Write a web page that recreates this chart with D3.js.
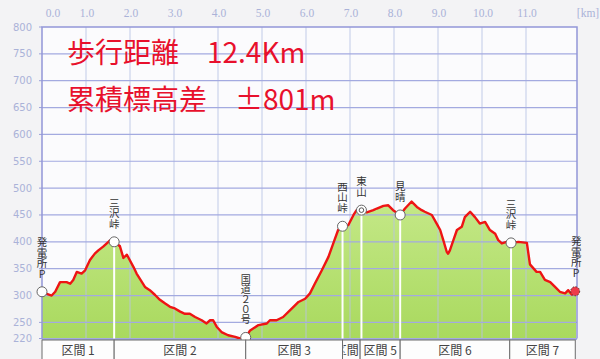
<!DOCTYPE html>
<html><head><meta charset="utf-8">
<script src="https://cdn.jsdelivr.net/npm/d3@7"></script>
<style>body{margin:0;background:#f3f3f5;}svg{display:block}</style>
</head><body>
<svg id="c" width="600" height="359"></svg>
<script>
const distKm = [0.00,0.11,0.22,0.30,0.41,0.56,0.64,0.71,0.79,0.90,0.98,1.09,1.20,1.28,1.39,1.51,1.55,1.64,1.77,1.85,1.93,2.08,2.15,2.34,2.45,2.57,2.68,2.80,2.91,3.02,3.14,3.25,3.36,3.48,3.63,3.74,3.82,3.89,3.97,4.08,4.23,4.39,4.50,4.63,4.73,4.92,5.11,5.18,5.33,5.48,5.64,5.83,5.98,6.09,6.20,6.36,6.51,6.62,6.73,6.83,6.96,7.08,7.15,7.26,7.38,7.53,7.61,7.76,7.87,7.98,8.14,8.25,8.40,8.52,8.63,8.70,8.86,8.97,9.05,9.12,9.20,9.23,9.27,9.35,9.43,9.54,9.61,9.73,9.84,9.95,10.07,10.18,10.30,10.37,10.45,10.56,10.66,10.83,11.02,11.09,11.24,11.32,11.43,11.55,11.66,11.77,11.89,11.96,12.04,12.14];
const elevation = [307,303,300,307,325,325,322,329,344,341,347,366,378,384,391,400,403,399,392,370,376,353,341,316,310,301,292,285,279,276,270,266,266,260,254,248,254,254,242,232,226,223,220,222,235,245,248,254,254,260,273,288,294,304,322,347,372,397,422,429,431,450,459,459,455,459,462,467,468,459,450,462,475,465,459,456,450,434,422,403,381,378,384,403,422,428,446,456,446,434,437,422,415,403,397,400,398,400,398,358,344,344,329,325,316,307,304,310,302,308];

const waypointNames = ["発電所P","三沢峠","国道２０号","西山峠","東山","見晴","三沢峠","発電所P"];
const waypointKm = [0, 1.64, 4.63, 6.83, 7.26, 8.14, 10.66, 12.14];
const waypointElev = [307, 400, 222, 429, 459, 450, 398, 308];
const waypointMark = ["o","o","o","o","double","o","o","end"];

const sectionNames = ["区間 1","区間 2","区間 3","区間 4","区間 5","区間 6","区間 7"];
const sectionBounds = [0, 1.64, 4.63, 6.83, 7.23, 8.14, 10.63, 12.12];

const xTicks = [0,1,2,3,4,5,6,7,8,9,10,11];
const yTicks = [800,750,700,650,600,550,500,450,400,350,300,250,220];

const titleLines = ["歩行距離　12.4Km", "累積標高差　±801m"];

const svg = d3.select("#c");
const L = 42, R = 577, T = 27, B = 338.5;
const x = d3.scaleLinear().domain([0, 12.159]).range([L, R]);
const y = d3.scaleLinear().domain([220, 800]).range([B, T]);

const data = distKm.map((k,i)=>({km:k, e:elevation[i]}));

svg.append("rect").attr("x",L).attr("y",T).attr("width",R-L).attr("height",B-T).attr("fill","#fbfbfd");

const defs = svg.append("defs");
const g = defs.append("linearGradient").attr("id","gr").attr("x1",0).attr("y1",0).attr("x2",0).attr("y2",1);
g.append("stop").attr("offset","0%").attr("stop-color","#c4e887");
g.append("stop").attr("offset","100%").attr("stop-color","#a9d95e");
defs.append("clipPath").attr("id","pc").append("rect").attr("x",L).attr("y",T).attr("width",R-L).attr("height",B-T+1);

const area = d3.area().x(d=>x(d.km)).y0(y(220)).y1(d=>y(d.e));
svg.append("path").datum(data).attr("d",area).attr("fill","url(#gr)");

svg.append("g").selectAll("line").data(xTicks.filter(v=>v>0)).join("line")
  .attr("x1",d=>x(d)).attr("x2",d=>x(d)).attr("y1",T).attr("y2",B)
  .attr("stroke","#b9c3e6").attr("stroke-width",1).attr("opacity",0.85);
svg.append("g").selectAll("line").data(yTicks.filter(v=>v<800)).join("line")
  .attr("x1",L).attr("x2",R).attr("y1",d=>y(d)).attr("y2",d=>y(d))
  .attr("stroke","#a3aae0").attr("stroke-width",1.2);
svg.append("g").selectAll("line").data(yTicks).join("line")
  .attr("x1",L-3).attr("x2",L).attr("y1",d=>y(d)).attr("y2",d=>y(d))
  .attr("stroke","#9aa0d8");

svg.append("g").selectAll("line").data(waypointKm.slice(1,-1)).join("line")
  .attr("x1",d=>x(d)).attr("x2",d=>x(d))
  .attr("y1",(d,i)=>y(waypointElev[i+1])).attr("y2",B)
  .attr("stroke","#ffffff").attr("stroke-width",2);

const line = d3.line().x(d=>x(d.km)).y(d=>y(d.e));
svg.append("path").datum(data).attr("d",line).attr("fill","none")
  .attr("stroke","#ee1414").attr("stroke-width",2.4).attr("stroke-linejoin","round")
  .attr("clip-path","url(#pc)");

svg.append("path").attr("d",`M${L},${B}V${T}H${R}V${B}`).attr("fill","none").attr("stroke","#9397d8").attr("stroke-width",1.5);
svg.append("line").attr("x1",L).attr("x2",R).attr("y1",B+1).attr("y2",B+1).attr("stroke","#a3aae0").attr("stroke-width",1.2);

waypointKm.forEach((k,i)=>{
  const cx = x(k), cy = y(waypointElev[i]);
  const m = waypointMark[i];
  if (m === "end") {
    svg.append("circle").attr("cx",cx-1).attr("cy",cy).attr("r",4.5).attr("fill","#ee3a4a").attr("stroke","#553333").attr("stroke-width",1).attr("stroke-dasharray","1.5,1.5");
  } else {
    svg.append("circle").attr("cx",cx).attr("cy",cy).attr("r",5).attr("fill","#ffffff").attr("stroke","#666").attr("stroke-width",1);
    if (m === "double") svg.append("circle").attr("cx",cx).attr("cy",cy).attr("r",2.3).attr("fill","#fff").attr("stroke","#555").attr("stroke-width",1);
  }
  const n = Array.from(waypointNames[i]).length;
  svg.append("text").attr("x",cx).attr("y",cy - 13)
    .attr("text-anchor","end")
    .style("writing-mode","vertical-rl").style("text-orientation","upright")
    .attr("font-family","'Noto Sans CJK JP'")
    .attr("font-size", n >= 5 ? 10 : 10.5)
    .attr("fill","#333").text(waypointNames[i]);
});

svg.append("g").selectAll("text").data(yTicks).join("text")
  .attr("x",32).attr("y",d=>y(d)).attr("dy","0.35em").attr("text-anchor","end")
  .attr("font-family","'DejaVu Sans'").attr("font-size",10).attr("fill","#aab2d8").text(d=>d);
svg.append("g").selectAll("text").data(xTicks).join("text")
  .attr("x",d=>d===0?x(d)+11:x(d)+1).attr("y",17).attr("text-anchor","middle")
  .attr("font-family","'Liberation Serif'").attr("font-size",11.5).attr("fill","#aab2d8").text(d=>d.toFixed(1));
svg.append("text").attr("x",588).attr("y",17).attr("text-anchor","middle")
  .attr("font-family","'Liberation Serif'").attr("font-size",11.5).attr("fill","#aab2d8").text("[km]");

titleLines.forEach((t,i)=>{
  svg.append("text").attr("x",67).attr("y",63+i*47).attr("font-family","'Noto Sans CJK JP'")
    .attr("font-size",28).attr("fill","#e8102c").text(t);
});

const sb = svg.append("g");
sectionNames.forEach((n,i)=>{
  const x0 = x(sectionBounds[i]), x1 = x(sectionBounds[i+1]);
  sb.append("rect").attr("x",x0).attr("y",340).attr("width",x1-x0).attr("height",22)
    .attr("fill","#fdfdfd").attr("stroke","#6d6d6d").attr("stroke-width",1);
  const w = Math.max(0, x1-x0-2);
  const inner = sb.append("svg").attr("x",x0+1).attr("y",340).attr("width",w).attr("height",19)
    .attr("overflow","hidden");
  inner.append("text").attr("x",w/2).attr("y",15).attr("text-anchor","middle")
    .attr("font-family","'Noto Sans CJK JP'").attr("font-size",12).attr("fill","#444")
    .text(n);
});
</script>
</body></html>
